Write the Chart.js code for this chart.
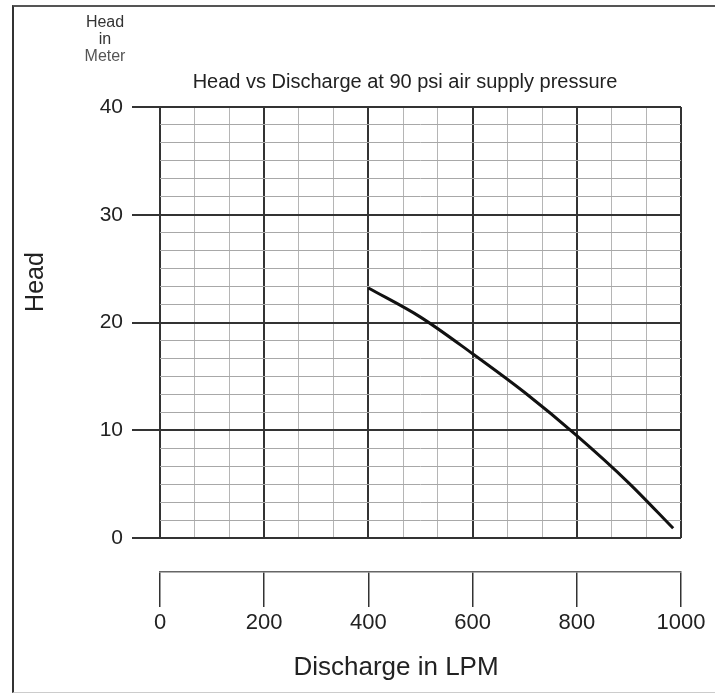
<!DOCTYPE html>
<html>
<head>
<meta charset="utf-8">
<title>Head vs Discharge</title>
<script src="https://cdn.jsdelivr.net/npm/chart.js@4.4.0/dist/chart.umd.min.js"></script>
<style>
  body { margin: 0; background: #fff; }
  #wrap { position: relative; width: 715px; height: 694px; overflow: hidden; }
  #frame { position: absolute; left: 12px; top: 5px; width: 720px; height: 685px;
           border-left: 2px solid #333; border-top: 2px solid #555; border-bottom: 1px solid #ccc; }
  canvas { position: absolute; left: 0; top: 0; }
</style>
</head>
<body>
<div id="wrap"><div id="frame"></div><canvas id="pumpChart" width="715" height="694"></canvas></div>
<script>
// pump curve (discharge in LPM, head in meter)
const discharge = [400, 500, 600, 700, 800, 900, 985];
const head = [23.2, 20.5, 17.1, 13.5, 9.5, 5.1, 0.9];

// axis ticks
const xTicks = [0, 200, 400, 600, 800, 1000];
const yTicks = [0, 10, 20, 30, 40];
const xSubDiv = 3;   // light lines between the dark ones
const ySubDiv = 6;

const chartTitle = 'Head vs Discharge at 90 psi air supply pressure';
const unitLabel = ['Head', 'in', 'Meter'];
const yTitle = 'Head';
const xTitle = 'Discharge in LPM';

const FONT = '"Liberation Sans", Arial, sans-serif';

// major + minor ticks for the graph paper
function paperTicks(major, sub) {
    const out = [];
    for (let i = 0; i < major.length - 1; i++) {
        const step = (major[i + 1] - major[i]) / sub;
        for (let j = 0; j < sub; j++) {
            out.push({ value: major[i] + j * step, isMajor: j === 0 });
        }
    }
    out.push({ value: major[major.length - 1], isMajor: true });
    return out;
}

const isMajor = ctx => ctx.tick && ctx.tick.isMajor;

// free text around the plot
const paperText = {
    id: 'paperText',
    afterDraw(chart) {
        const c = chart.ctx;
        c.save();
        c.textAlign = 'center';
        c.textBaseline = 'alphabetic';
        c.fillStyle = '#222';

        c.font = '20px ' + FONT;
        c.fillText(chartTitle, 405, 88);

        c.font = '16px ' + FONT;
        c.fillStyle = '#333';
        c.fillText(unitLabel[0], 105, 27);
        c.fillText(unitLabel[1], 105, 44);
        c.fillStyle = '#555';
        c.fillText(unitLabel[2], 105, 61);

        c.fillStyle = '#222';
        c.font = '26px ' + FONT;
        c.fillText(xTitle, 396, 675);

        c.translate(43, 282);
        c.rotate(-Math.PI / 2);
        c.font = '25px ' + FONT;
        c.fillText(yTitle, 0, 0);
        c.restore();
    }
};

let pumpChart;
document.addEventListener('DOMContentLoaded', function() {
    const ctx = document.getElementById('pumpChart').getContext('2d');
    pumpChart = new Chart(ctx, {
        type: 'scatter',
        data: {
            datasets: [{
                data: discharge.map((d, i) => ({ x: d, y: head[i] })),
                showLine: true,
                borderColor: '#111',
                borderWidth: 3,
                pointRadius: 0,
                cubicInterpolationMode: 'monotone',
                fill: false
            }]
        },
        options: {
            responsive: false,
            animation: false,
            layout: { padding: { top: 107, right: 34, left: 0, bottom: 0 } },
            plugins: {
                legend: { display: false },
                tooltip: { enabled: false },
                title: { display: false }
            },
            scales: {
                x: {
                    type: 'linear',
                    min: 0,
                    max: 1000,
                    position: 'bottom',
                    weight: 0,
                    afterBuildTicks: s => { s.ticks = paperTicks(xTicks, xSubDiv); },
                    afterFit: s => { s.height = 34; },
                    border: { display: false },
                    ticks: { display: false, autoSkip: false },
                    grid: {
                        drawTicks: false,
                        color: c => isMajor(c) ? '#333' : '#b5b5b5',
                        lineWidth: c => isMajor(c) ? 2 : 1,
                        borderDash: c => isMajor(c) ? [] : [3, 3]
                    }
                },
                x2: {
                    type: 'linear',
                    min: 0,
                    max: 1000,
                    position: 'bottom',
                    weight: 1,
                    afterBuildTicks: s => { s.ticks = xTicks.map(v => ({ value: v })); },
                    afterFit: s => { s.height = 122; },
                    border: { display: true, color: '#666', width: 1.5 },
                    grid: { drawOnChartArea: false, tickLength: 35, color: '#333', lineWidth: 1.5 },
                    ticks: {
                        autoSkip: false,
                        padding: 3,
                        color: '#222',
                        font: { family: FONT, size: 22 },
                        callback: value => String(value)
                    }
                },
                y: {
                    type: 'linear',
                    min: 0,
                    max: 40,
                    afterBuildTicks: s => { s.ticks = paperTicks(yTicks, ySubDiv); },
                    afterFit: s => { s.width = 160; },
                    border: { display: false },
                    grid: {
                        tickLength: 28,
                        color: c => isMajor(c) ? '#333' : '#a8a8a8',
                        lineWidth: c => isMajor(c) ? 2 : 1,
                        borderDash: c => isMajor(c) ? [] : [4, 2],
                        tickColor: c => isMajor(c) ? '#333' : 'rgba(0,0,0,0)',
                        tickWidth: 2
                    },
                    ticks: {
                        autoSkip: false,
                        padding: 9,
                        color: '#222',
                        font: { family: FONT, size: 21 },
                        callback: (value, index, ticks) => ticks[index].isMajor ? String(Math.round(value)) : ''
                    }
                }
            }
        },
        plugins: [paperText]
    });
});
</script>
</body>
</html>
